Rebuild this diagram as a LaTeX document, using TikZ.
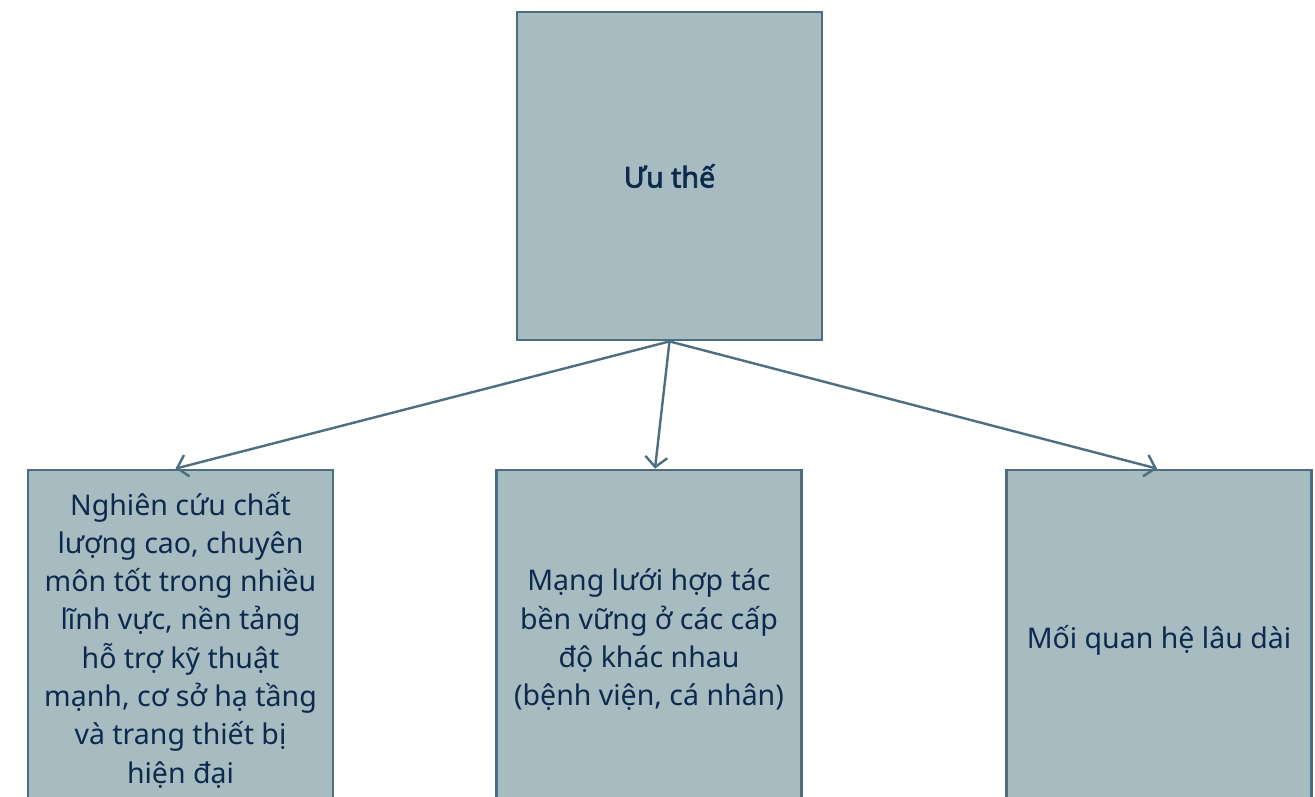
\documentclass[tikz,border=0pt]{standalone}
\usepackage{fontspec}
\setmainfont{Noto Sans}
\newfontfamily\boldf{Noto Sans}[FakeBold=2.5]
\usetikzlibrary{arrows.meta}
\definecolor{boxfill}{HTML}{A6BCC1}
\definecolor{boxline}{HTML}{4D6E80}
\definecolor{txt}{HTML}{0D2A4D}
\tikzset{
  box/.style={draw=boxline, line width=2.8pt, fill=boxfill, minimum width=305pt, minimum height=328pt,
    inner sep=0pt, align=center, text=txt, font=\fontsize{28.5}{38.3}\selectfont},
  lowbox/.style={box, minimum height=340pt},
  link/.style={draw=boxline, line width=2.4pt, -{Straight Barb[length=10pt,width=22pt,line width=2.4pt]}}
}
\begin{document}
\begin{tikzpicture}[x=1pt,y=-1pt]
\useasboundingbox (0,0) rectangle (1315,796);
\node[box, font=\boldf\fontsize{28.5}{38.3}\selectfont] (top) at (669.5,176) {Ưu thế};
\node[lowbox] (left) at (180.5,640) {Nghiên cứu chất\\lượng cao, chuyên\\môn tốt trong nhiều\\lĩnh vực, nền tảng\\hỗ trợ kỹ thuật\\mạnh, cơ sở hạ tầng\\và trang thiết bị\\hiện đại};
\node[lowbox] (mid) at (649,640) {Mạng lưới hợp tác\\bền vững ở các cấp\\độ khác nhau\\(bệnh viện, cá nhân)};
\node[lowbox] (right) at (1159,640) {Mối quan hệ lâu dài};
\draw[link] (top.south) -- ([xshift=-5pt]left.north);
\draw[link] (top.south) -- ([xshift=6pt]mid.north);
\draw[link] (top.south) -- ([xshift=-2pt]right.north);
\end{tikzpicture}
\end{document}
